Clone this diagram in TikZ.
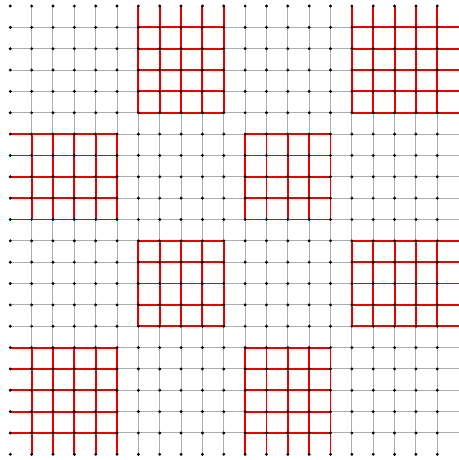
\documentclass[tikz,border=0pt]{standalone}
\tikzset{
  gridline/.style={draw=black!32, line width=1bp},
  redline/.style={draw=red!92!black, line width=1.9bp},
  dot/.style={circle, fill=black, draw=none, inner sep=0pt, minimum size=3.2bp},
  declare function={okv(\a,\b)=((\a<1)||(\a>20)||(\b<1)||(\b>20)) ? 1 : mod(floor((\a-1)/5)+floor((\b-1)/5),2);}
}
\begin{document}
\begin{tikzpicture}[x=21.35bp, y=-21.35bp]
\useasboundingbox (-0.4824,-0.281) rectangle (21.016,21.265);
% lattice points
\foreach \c in {0,...,21}{
  \foreach \r in {0,...,21}{
    \coordinate (v-\c-\r) at (\c,\r);
  }
}
% gray lattice lines
\foreach \r in {1,...,20}{
  \draw[gridline] (v-0-\r) -- (v-21-\r);
}
\foreach \c in {1,...,20}{
  \draw[gridline] (v-\c-0) -- (v-\c-21);
}
% red horizontal edges
\foreach \r in {1,...,20}{
  \foreach \c in {0,...,20}{
    \pgfmathtruncatemacro\cn{\c+1}
    \pgfmathtruncatemacro\isred{okv(\c,\r)*okv(\cn,\r)}
    \ifnum\isred=1 \draw[redline] (v-\c-\r) -- (v-\cn-\r); \fi
  }
}
% red vertical edges
\foreach \c in {1,...,20}{
  \foreach \r in {0,...,20}{
    \pgfmathtruncatemacro\rn{\r+1}
    \pgfmathtruncatemacro\isred{okv(\c,\r)*okv(\c,\rn)}
    \ifnum\isred=1 \draw[redline] (v-\c-\r) -- (v-\c-\rn); \fi
  }
}
% dots
\foreach \c in {0,...,20}{
  \foreach \r in {0,...,21}{
    \node[dot] (d-\c-\r) at (v-\c-\r) {};
  }
}
\end{tikzpicture}
\end{document}
